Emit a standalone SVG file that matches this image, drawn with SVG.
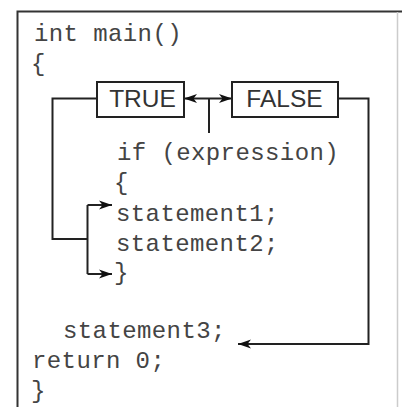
<svg xmlns="http://www.w3.org/2000/svg" width="402" height="407" viewBox="0 0 402 407">
<style>
.code{font-family:"Liberation Mono","Courier New",monospace;font-size:24px;fill:#444;letter-spacing:0.4px}
.lbl{font-family:"Liberation Sans",Arial,sans-serif;font-size:24.5px;fill:#333;text-anchor:middle}
.box{fill:#fff;stroke:#222;stroke-width:2}
.wire{fill:none;stroke:#222;stroke-width:2}
</style>
<defs>
<marker id="ah" markerUnits="userSpaceOnUse" markerWidth="14" markerHeight="10" viewBox="0 0 14 10" refX="13" refY="5" orient="auto-start-reverse">
<path d="M0,0.5 L13,5 L0,9.5 L3.5,5 z" fill="#111"/>
</marker>
</defs>
<rect width="402" height="407" fill="#fff"/>
<g id="frame">
<path d="M17.5,412 V11.5 H402" fill="none" stroke="#333" stroke-width="2"/>
<line x1="397.5" y1="12" x2="397.5" y2="407" stroke="#ccc" stroke-width="1.5"/>
</g>
<g id="code">
<text class="code" x="34" y="40.5">int main()</text>
<text class="code" x="31" y="70.5">{</text>
<text class="code" x="117" y="160">if (expression)</text>
<text class="code" x="114" y="190">{</text>
<text class="code" x="116" y="221">statement1;</text>
<text class="code" x="116" y="250.5">statement2;</text>
<text class="code" x="114" y="280">}</text>
<text class="code" x="63" y="337.5">statement3;</text>
<text class="code" x="32" y="368">return 0;</text>
<text class="code" x="31" y="397.5">}</text>
</g>
<g id="connectors">
<line class="wire" x1="184" y1="98.5" x2="232" y2="98.5" marker-start="url(#ah)" marker-end="url(#ah)"/>
<line class="wire" x1="209" y1="98.5" x2="209" y2="133"/>
<path class="wire" d="M97,98.5 H52.5 V239 H87.5"/>
<path class="wire" d="M87.5,205 V274"/>
<path class="wire" d="M87.5,205 H112" marker-end="url(#ah)"/>
<path class="wire" d="M87.5,274 H112" marker-end="url(#ah)"/>
<path class="wire" d="M338,98.5 H368.5 V344 H238" marker-end="url(#ah)"/>
</g>
<g id="node-true">
<rect class="box" x="97" y="82" width="87" height="35"/>
<text class="lbl" x="142.5" y="106.5">TRUE</text>
</g>
<g id="node-false">
<rect class="box" x="232" y="82" width="106" height="35"/>
<text class="lbl" x="284.5" y="106.5">FALSE</text>
</g>
</svg>
